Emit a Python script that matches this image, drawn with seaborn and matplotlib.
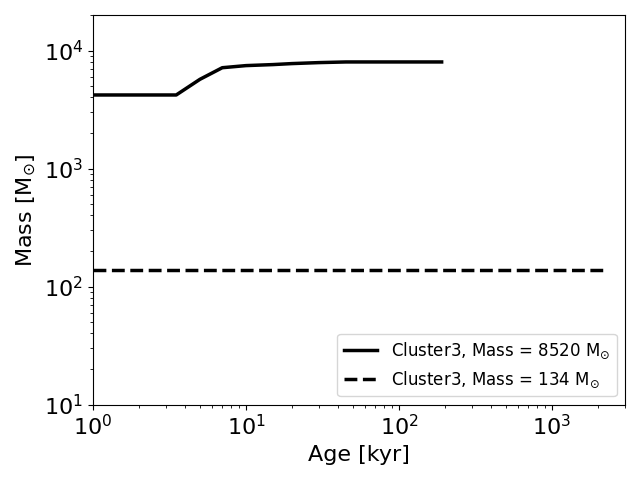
import matplotlib
matplotlib.use("Agg")
import matplotlib.pyplot as plt
import seaborn as sns
import pandas as pd

age_a = [1, 3.5, 5, 7, 10, 15, 20, 30, 45, 100, 190]
mass_a = [4200, 4200, 5700, 7150, 7450, 7600, 7750, 7900, 8000, 8000, 8000]
age_b = [1, 2300]
mass_b = [137, 137]

labels = [r"Cluster3, Mass = 8520 M$_{\odot}$", r"Cluster3, Mass = 134 M$_{\odot}$"]

fig, ax = plt.subplots(figsize=(6.4, 4.8), dpi=100)
sns.lineplot(x=age_a, y=mass_a, ax=ax, color="black", lw=2.5, label=labels[0])
sns.lineplot(x=age_b, y=mass_b, ax=ax, color="black", lw=2.5, ls="--", label=labels[1])
ax.set_xscale("log")
ax.set_yscale("log")
ax.set_xlim(1, 3000)
ax.set_ylim(10, 2e4)
ax.set_xlabel("Age [kyr]", fontsize=16)
ax.set_ylabel(r"Mass [M$_{\odot}$]", fontsize=16)
ax.tick_params(axis="both", which="major", labelsize=16)
ax.legend(loc="lower right", fontsize=12)
fig.tight_layout()
fig.savefig("out.png", dpi=100)
